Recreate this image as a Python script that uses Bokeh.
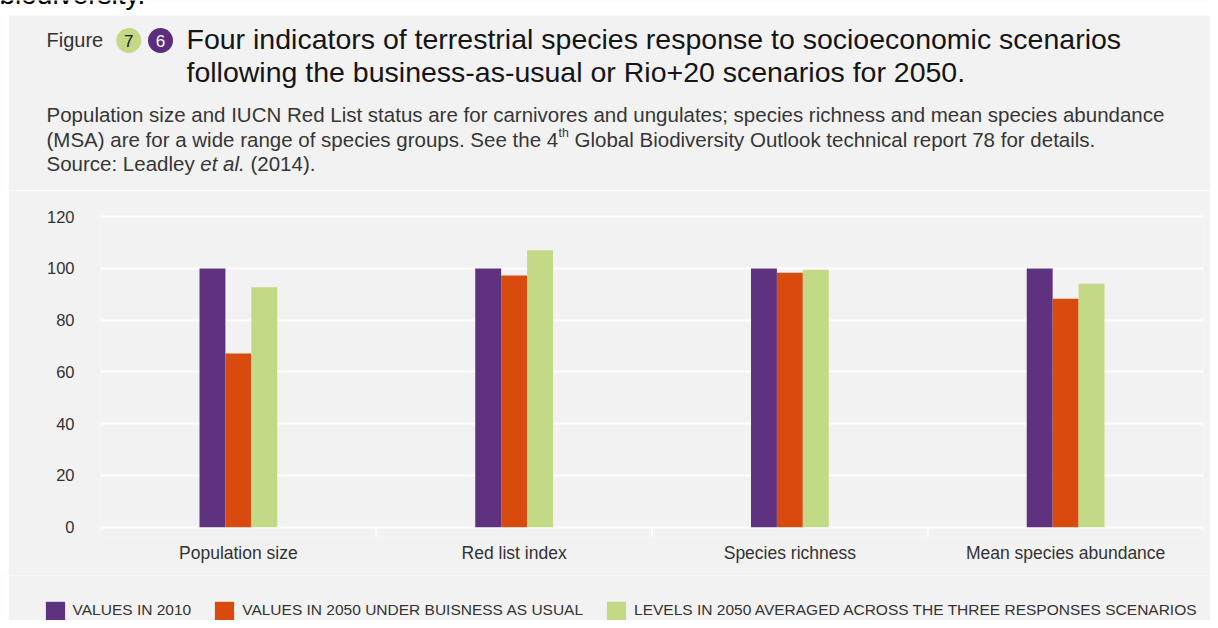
from bokeh.plotting import figure
from bokeh.models import (FactorRange, Range1d, FixedTicker, Label, Legend, LegendItem,
                          ColumnDataSource, BoxAnnotation, Spacer)
from bokeh.layouts import column, row
from bokeh.transform import dodge
from bokeh.embed import file_html
from bokeh.resources import INLINE

# ---------------- data ----------------
categories = ["Population size", "Red list index", "Species richness", "Mean species abundance"]
values_2010 = [100, 100, 100, 100]
values_2050_bau = [67.1, 97.3, 98.3, 88.3]
values_2050_rio = [92.7, 107.0, 99.5, 94.1]
series_names = ["VALUES IN 2010",
                "VALUES IN 2050 UNDER BUISNESS AS USUAL",
                "LEVELS IN 2050 AVERAGED ACROSS THE THREE RESPONSES SCENARIOS"]
y_ticks = [0, 20, 40, 60, 80, 100, 120]
colors = ["#5e327e", "#d84a0e", "#c2d985"]

FONT = "Liberation Sans"
BG = "#f2f2f2"
TITLE_C = "#151515"
SUB_C = "#363636"

# ---------------- header figure (title + subtitle) ----------------
HW, HH = 1210, 190
hdr = figure(width=HW, height=HH, x_range=Range1d(0, HW), y_range=Range1d(HH, 0),
             x_axis_location=None, y_axis_location=None, output_backend="svg",
             toolbar_location=None, min_border=0, outline_line_color=None,
             background_fill_color=BG, border_fill_color=BG)
hdr.grid.visible = False
# white page strips (top and left) around the grey panel
hdr.add_layout(BoxAnnotation(left=-10, right=HW + 10, top=-10, bottom=15, fill_color="white", fill_alpha=1,
                             line_color=None, level="underlay"))
hdr.add_layout(BoxAnnotation(left=-10, right=8, top=-10, bottom=HH + 10, fill_color="white", fill_alpha=1,
                             line_color=None, level="underlay"))


def hlabel(text, x, y, size, color, style="normal", align="left"):
    hdr.add_layout(Label(x=x, y=y, text=text, text_font=FONT, text_font_size=f"{size}px",
                         text_color=color, text_font_style=style, text_baseline="middle",
                         text_align=align))


hlabel("biodiversity.", -1, -6, 28, "#000000")
hlabel("Figure", 46, 39.8, 20, "#333333")
hdr.scatter(x=[128.3, 160], y=[40, 40], size=25, marker="circle",
            fill_color=["#c4d886", "#5c2d7f"], line_color=None)
hlabel("7", 128.3, 40.5, 17, "#1a1a1a", align="center")
hlabel("6", 160, 40.5, 17, "white", align="center")
hlabel("Four indicators of terrestrial species response to socioeconomic scenarios", 186, 38.5, 28.5, TITLE_C)
hlabel("following the business-as-usual or Rio+20 scenarios for 2050.", 186, 71.5, 28.5, TITLE_C)

S = 20.5
SS = 12.3
hlabel("Population size and IUCN Red List status are for carnivores and ungulates; species richness "
       "and mean species abundance", 46, 114, S, SUB_C)
x4 = 46 + 24.956 * S
hlabel("(MSA) are for a wide range of species groups. See the 4", 46, 138.6, S, SUB_C)
hlabel("th", x4 + 0.5, 132.6, SS, SUB_C)
hlabel("Global Biodiversity Outlook technical report 78 for details.", x4 + 0.834 * SS + 0.278 * S + 0.5,
       138.6, S, SUB_C)
xe = 46 + 7.504 * S
hlabel("Source: Leadley", 46, 162.8, S, SUB_C)
hlabel("et al.", xe, 162.8, S, SUB_C, style="italic")
hlabel("(2014).", xe + 2.168 * S + 0.278 * S, 162.8, S, SUB_C)

# ---------------- main chart ----------------
W, H = 1202, 385
FL, FR, FT, FB = 92, 7, 21, 38

p = figure(width=W, height=H, x_range=FactorRange(*categories), y_range=Range1d(-4, 122),
           output_backend="svg", toolbar_location=None,
           min_border_left=FL, min_border_right=FR, min_border_top=FT, min_border_bottom=FB,
           background_fill_color=BG, border_fill_color=BG, outline_line_color=None)

src = ColumnDataSource(dict(cat=categories, v2010=values_2010, bau=values_2050_bau, rio=values_2050_rio))
bw = 0.094
r1 = p.vbar(x=dodge("cat", -bw, range=p.x_range), top="v2010", width=bw, source=src,
            fill_color=colors[0], line_color=None)
r2 = p.vbar(x=dodge("cat", 0.0, range=p.x_range), top="bau", width=bw, source=src,
            fill_color=colors[1], line_color=None)
r3 = p.vbar(x=dodge("cat", bw, range=p.x_range), top="rio", width=bw, source=src,
            fill_color=colors[2], line_color=None)

# category boundary ticks below the zero line
tick_src = ColumnDataSource(dict(cat=categories[:-1]))
p.segment(x0=dodge("cat", 0.5, range=p.x_range), x1=dodge("cat", 0.5, range=p.x_range),
          y0=0, y1=-3.6, source=tick_src, line_color="white", line_width=2)

p.xgrid.visible = False
p.ygrid.ticker = FixedTicker(ticks=y_ticks)
p.ygrid.grid_line_color = "white"
p.ygrid.grid_line_width = 2

p.yaxis.ticker = FixedTicker(ticks=y_ticks)
p.yaxis.axis_line_color = None
p.yaxis.major_tick_line_color = None
p.yaxis.minor_tick_line_color = None
p.yaxis.major_tick_out = 0
p.yaxis.major_tick_in = 0
p.yaxis.major_label_standoff = 26
p.yaxis.major_label_text_font = FONT
p.yaxis.major_label_text_font_size = "16.5px"
p.yaxis.major_label_text_color = "#333333"

p.xaxis.axis_line_color = None
p.xaxis.major_tick_line_color = None
p.xaxis.major_tick_out = 0
p.xaxis.major_tick_in = 0
p.xaxis.major_label_standoff = 5
p.xaxis.major_label_text_font = FONT
p.xaxis.major_label_text_font_size = "17.5px"
p.xaxis.major_label_text_color = "#333333"

# ---------------- legend strip ----------------
LW, LH = 1210, 45
lf = figure(width=LW, height=LH, x_range=Range1d(0, LW), y_range=Range1d(0, LH),
            x_axis_location=None, y_axis_location=None, output_backend="svg",
            toolbar_location=None, min_border=0, outline_line_color=None,
            background_fill_color=BG, border_fill_color=BG)
lf.grid.visible = False
lf.add_layout(BoxAnnotation(left=-10, right=8, top=LH + 10, bottom=-10, fill_color="white", fill_alpha=1,
                            line_color=None, level="underlay"))
# swatch renderers for the legend (placed outside the visible range)
swatches = [lf.vbar(x=[-100], top=[-100], width=1, fill_color=c, line_color=None) for c in colors]
legend = Legend(items=[LegendItem(label=n, renderers=[r]) for n, r in zip(series_names, swatches)],
                location=(42.6, -1.5), orientation="horizontal", padding=0, margin=0, spacing=21,
                glyph_width=24, glyph_height=23, label_standoff=6,
                label_text_font=FONT, label_text_font_size="15.5px", label_text_color="#333333",
                border_line_color=None, background_fill_alpha=0)
lf.add_layout(legend)

layout = column(hdr, row(Spacer(width=8, height=H), p, spacing=0), lf, spacing=0)
open("out.html", "w").write(file_html(layout, INLINE))
